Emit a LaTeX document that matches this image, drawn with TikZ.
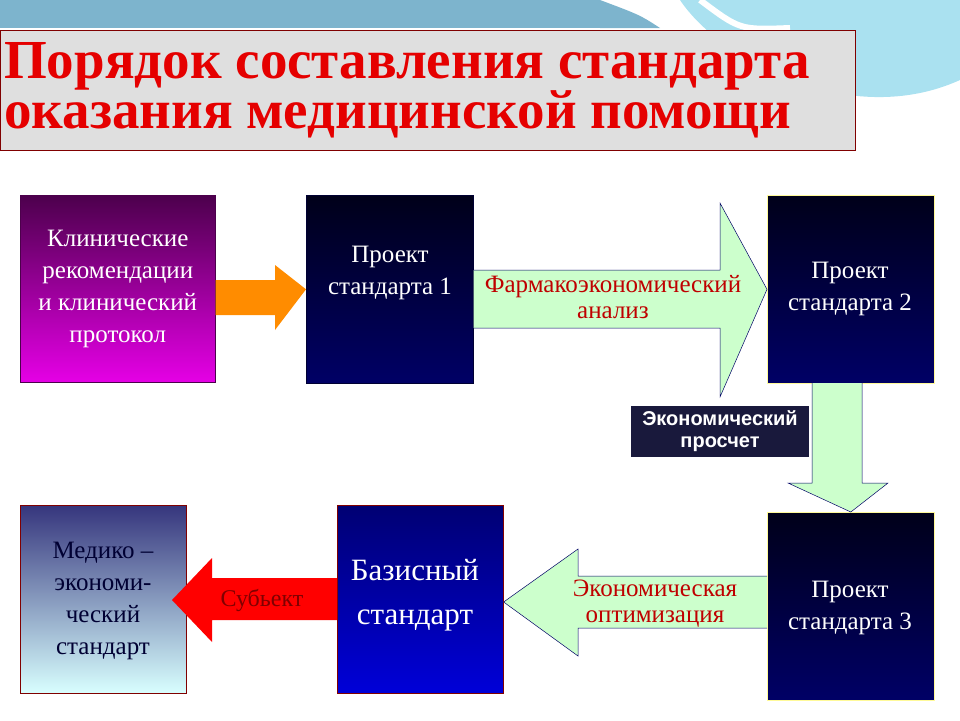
\documentclass[tikz,border=0pt]{standalone}
\usepackage{fontspec}
\setmainfont{Liberation Serif}
\newfontfamily\titlefont{Liberation Serif}
\newfontfamily\sansf{Liberation Sans}
\definecolor{band}{RGB}{125,180,205}
\definecolor{swoosh}{RGB}{170,225,240}
\begin{document}
\begin{tikzpicture}[x=1pt,y=-1pt,
  box/.style={draw=#1,line width=0.6pt},
  wtext/.style={text=white,font=\fontsize{25}{32}\selectfont,align=center},
  rtext/.style={text=red!75!black,font=\fontsize{25}{26}\selectfont,align=center},
  garrow/.style={fill=green!20,draw=blue!40!black,line width=0.5pt}]
\useasboundingbox (0,0) rectangle (960,720);
% background swoosh
\fill[band] (0,0) rectangle (600,28);
\fill[band] (600,0) .. controls (640,15) .. (660,28) -- (600,28) -- cycle;
\fill[swoosh] (680,0) .. controls (720,60) and (850,130) .. (960,80) -- (960,0) -- cycle;
\draw[white,line width=6pt] (700,0) .. controls (740,30) .. (790,28);
% title
\node[box=red!50!black,fill=gray!25,minimum width=855,minimum height=120,anchor=north west,inner sep=0] (title) at (0,30) {};
\node[anchor=west,text=red!90!black,font=\titlefont\bfseries\fontsize{55}{50}\selectfont,align=left,inner sep=0] (tt) at (4,90) {Порядок составления стандарта\\оказания медицинской помощи};
% boxes
\node[box=violet!60!black,top color=violet!60!black,bottom color=magenta!80!violet,minimum width=195,minimum height=187,anchor=north west,inner sep=0] (b1) at (20,195) {};
\node[wtext,text=white] at (b1.center) {Клинические\\рекомендации\\и клинический\\протокол};
\node[box=blue!20!black,top color=blue!10!black,bottom color=blue!40!black,minimum width=167,minimum height=188,anchor=north west,inner sep=0] (b2) at (306,195) {};
\node[wtext,text=white] at (390,273) {Проект\\стандарта 1};
\node[box=yellow!40!white,top color=black!90!blue,bottom color=blue!40!black,minimum width=167,minimum height=188,anchor=north west,inner sep=0] (b3) at (767,195) {};
\node[wtext] at (850,289) {Проект\\стандарта 2};
\node[box=yellow!40!white,top color=black!90!blue,bottom color=blue!40!black,minimum width=167,minimum height=188,anchor=north west,inner sep=0] (b4) at (767,512) {};
\node[wtext] at (850,608) {Проект\\стандарта 3};
\node[box=red!50!black,top color=blue!45!black,bottom color=blue!85!black,minimum width=166,minimum height=188,anchor=north west,inner sep=0] (b5) at (337,505) {};
\node[wtext,font=\fontsize{31}{44}\selectfont] at (415,595) {Базисный\\стандарт};
\node[box=red!50!black,top color=gray!60!blue!70!black,bottom color=cyan!15,minimum width=166,minimum height=188,anchor=north west,inner sep=0] (b6) at (20,505) {};
\node[wtext,text=blue!20!black] at (103,601) {Медико –\\экономи-\\ческий\\стандарт};
% arrows
\coordinate (rt) at (172,600);
\fill[orange!90!yellow] (b1.east |- 0,280) -- (275,280) -- (275,265) -- (b2.west) -- (275,330) -- (275,315) -- (b1.east |- 0,315) -- cycle;
\draw[garrow] (b2.east |- 0,270) -- (720,270) -- (720,203) -- (b3.west) -- (720,397) -- (720,328) -- (b2.east |- 0,328);
\node[rtext] (fa) at (613,297) {Фармакоэкономический\\анализ};
\draw[garrow] (812,383) -- (812,483) -- (788,483) -- (b4.north) -- (888,483) -- (862,483) -- (862,383);
\node[fill=blue!15!black!90,draw=white,minimum width=179,minimum height=52,text=white,font=\sansf\bfseries\fontsize{20}{22}\selectfont,align=center,inner sep=0] (ep) at (720,431) {Экономический\\просчет};
\draw[garrow] (b4.west |- 0,576) -- (578,576) -- (578,549) -- (b5.east |- 0,602) -- (578,656) -- (578,628) -- (b4.west |- 0,628);
\node[rtext] (eo) at (655,604) {Экономическая\\оптимизация};
\fill[red] (b5.west |- 0,578) -- (212,578) -- (212,558) -- (rt) -- (212,642) -- (212,620) -- (b5.west |- 0,620) -- cycle;
\node[text=red!50!black,font=\fontsize{24}{26}\selectfont] (sb) at (262,600) {Субьект};
\end{tikzpicture}
\end{document}
